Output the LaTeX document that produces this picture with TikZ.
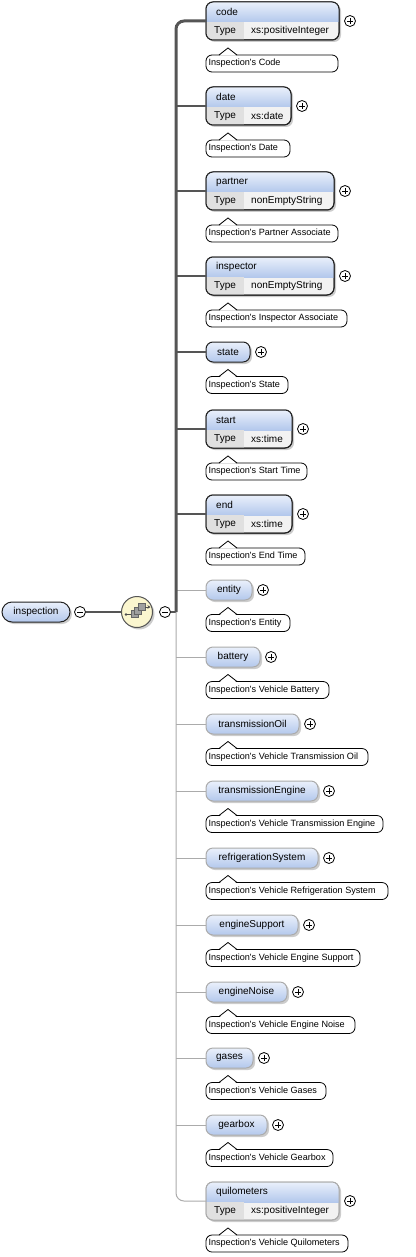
\documentclass[tikz,border=0pt]{standalone}
\usepackage{fontspec}
\setmainfont{Liberation Sans}
\usetikzlibrary{shadows}
\usetikzlibrary{arrows.meta}
\definecolor{elbluetop}{HTML}{EAF0FB}
\definecolor{elbluebot}{HTML}{B3C8EC}
\definecolor{typegray}{HTML}{E0E0E0}
\definecolor{valgray}{HTML}{F2F2F2}
\definecolor{busgray}{HTML}{555555}
\definecolor{optgray}{HTML}{ABABAB}
\definecolor{seqyellow}{HTML}{FBF6CF}
\definecolor{elborder}{HTML}{222222}

\begin{document}
\begin{tikzpicture}[x=1pt,y=-1pt,
  elbox/.style={draw, line width=1pt, rounded corners=7pt, inner sep=0pt, outer sep=0pt, anchor=west,
    font=\fontsize{10}{12}\selectfont, drop shadow={shadow xshift=2pt,shadow yshift=-2pt,opacity=.4}},
  annot/.style={draw, line width=.8pt, fill=white, rounded corners=6pt, minimum height=17pt,
    inner xsep=2.5pt, inner ysep=0pt, outer sep=0pt, anchor=west, font=\fontsize{9.1}{11}\selectfont},
  pmnode/.style={draw, line width=.8pt, circle, fill=white, minimum size=11pt, inner sep=0pt},
  plusnode/.style={pmnode, path picture={\draw[line width=.8pt]
    ([xshift=-3pt]path picture bounding box.center) -- ([xshift=3pt]path picture bounding box.center)
    ([yshift=-3pt]path picture bounding box.center) -- ([yshift=3pt]path picture bounding box.center);}},
  minusnode/.style={pmnode, path picture={\draw[line width=.8pt]
    ([xshift=-3pt]path picture bounding box.center) -- ([xshift=3pt]path picture bounding box.center);}},
  txt/.style={inner sep=0pt, anchor=west, font=\fontsize{10}{12}\selectfont}]
\useasboundingbox (0,0) rectangle (415,1257);

\node[elbox, draw=elborder, rounded corners=10pt, minimum width=68pt, minimum height=20pt,
  top color=elbluetop, bottom color=elbluebot] (inspection) at (2,612) {inspection};
\node[minusnode] (inspection-minus) at (80,612) {};
\node[circle, draw=busgray, line width=1pt, fill=seqyellow, minimum size=31pt, inner sep=0pt,
  drop shadow={shadow xshift=2pt,shadow yshift=-2pt,opacity=.4}] (seq) at (137,612) {};
\node[minusnode] (seq-minus) at (165,612) {};
\coordinate (bus) at (176,612);

\begin{scope}[shift={(seq.center)}]
\draw [line width=1pt, black!70] (-10.5,2.5) -- (-5,2.5);
\fill [black!70] (-11,2.5) circle (1.3pt);
\foreach \k in {0,1,2}
  \draw [fill=gray!75, draw=black!60, line width=.5pt] (-6+3.7*\k,-1.5-3.7*\k) rectangle ++(7,7);
\draw [line width=1pt, black!70, -{Stealth[length=3pt,width=3.5pt]}] (8,-5) -- (13.5,-5);
\end{scope}

\draw [busgray, line width=2pt] (inspection-minus) -- (seq);
\draw [busgray, line width=2pt] (seq-minus) -- (bus);

\foreach \nm/\tp/\rt/\ty/\ar/\an/\bc/\cc in {
  code/2/339/xs:positiveInteger/338/Code/elborder/none,
  date/87/291/xs:date/290/Date/elborder/busgray,
  partner/172/334/nonEmptyString/338/Partner Associate/elborder/busgray,
  inspector/257/334/nonEmptyString/347/Inspector Associate/elborder/busgray,
  start/410/292/xs:time/307/Start Time/elborder/busgray,
  end/495/292/xs:time/305/End Time/elborder/busgray,
  quilometers/1182/339/xs:positiveInteger/348/Vehicle Quilometers/optgray/none}{
  \pgfmathsetmacro\w{\rt-206}
  \pgfmathsetmacro\aw{\ar-211}
  \node[elbox, draw=\bc, minimum width=\w pt, minimum height=38pt, fill=valgray] (\nm) at (206,\tp+19) {};
  \begin{scope}
  \clip [rounded corners=7pt] (\nm.north west) rectangle (\nm.south east);
  \shade [top color=elbluetop, bottom color=elbluebot] (\nm.north west) rectangle (\rt,\tp+20);
  \fill [typegray] (206,\tp+20) rectangle (244,\tp+38);
  \end{scope}
  \draw [draw=\bc, line width=1pt, rounded corners=7pt] (\nm.north west) rectangle (\nm.south east);
  \node[txt] (\nm-name) at (216,\tp+10) {\nm};
  \node[txt] (\nm-type) at (214,\tp+29) {Type};
  \node[txt] (\nm-val) at (251,\tp+29) {\ty};
  \node[plusnode] (\nm-plus) at (\rt+11,\tp+19) {};
  \draw [draw=\cc, line width=2pt] (\nm.west -| bus) -- (\nm.west);
  \node[annot] (\nm-ann) at (206,\tp+61.5) {\makebox[\aw pt][l]{Inspection\textquotesingle s \an}};
  \fill [white] ([xshift=13.5pt,yshift=-.6pt]\nm-ann.north west) -- ++(8.5,-6.6) -- ++(8.5,6.6) -- cycle;
  \draw [line width=.8pt] ([xshift=13pt]\nm-ann.north west) -- ++(9,-7) -- ++(9,7);
}

\foreach \nm/\cy/\rt/\ar/\an/\bc/\cc/\cw in {
  state/352/250/288/State/elborder/busgray/2,
  entity/590/252/290/Entity/optgray/optgray/1,
  battery/657/260/329/Vehicle Battery/optgray/optgray/1,
  transmissionOil/724/299/368/Vehicle Transmission Oil/optgray/optgray/1,
  transmissionEngine/791/318/383/Vehicle Transmission Engine/optgray/optgray/1,
  refrigerationSystem/858/318/388/Vehicle Refrigeration System/optgray/optgray/1,
  engineSupport/925/298/360/Vehicle Engine Support/optgray/optgray/1,
  engineNoise/992/287/355/Vehicle Engine Noise/optgray/optgray/1,
  gases/1058/253/326/Vehicle Gases/optgray/optgray/1,
  gearbox/1125/267/333/Vehicle Gearbox/optgray/optgray/1}{
  \pgfmathsetmacro\w{\rt-206}
  \pgfmathsetmacro\aw{\ar-211}
  \node[elbox, draw=\bc, minimum width=\w pt, minimum height=20pt,
    top color=elbluetop, bottom color=elbluebot] (\nm) at (206,\cy) {\nm};
  \node[plusnode] (\nm-plus) at (\rt+11,\cy) {};
  \draw [draw=\cc, line width=\cw pt] (\nm.west -| bus) -- (\nm.west);
  \node[annot] (\nm-ann) at (206,\cy+33) {\makebox[\aw pt][l]{Inspection\textquotesingle s \an}};
  \fill [white] ([xshift=13.5pt,yshift=-.6pt]\nm-ann.north west) -- ++(8.5,-6.6) -- ++(8.5,6.6) -- cycle;
  \draw [line width=.8pt] ([xshift=13pt]\nm-ann.north west) -- ++(9,-7) -- ++(9,7);
}

\draw [busgray, line width=3pt, rounded corners=8pt] (code.west) -- (code.west -| bus) -- (bus);
\draw [optgray, line width=1pt, rounded corners=8pt] (bus) -- (bus |- quilometers.west) -- (quilometers.west);
\end{tikzpicture}
\end{document}
